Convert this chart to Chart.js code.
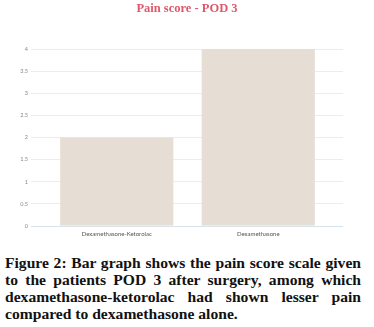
<!DOCTYPE html>
<html>
<head>
<meta charset="utf-8">
<script src="https://cdn.jsdelivr.net/npm/chart.js@4"></script>
<style>
  html, body { margin: 0; padding: 0; background: #fff; }
  #wrap { position: relative; width: 374px; height: 240px; }
  #cap {
    margin: 14px 13px 0 5px;
    font-family: "Liberation Serif", serif;
    font-weight: bold;
    font-size: 15.6px;
    line-height: 17px;
    text-align: justify;
    color: #111;
  }
</style>
</head>
<body>
<div id="wrap"><canvas id="painChart"></canvas></div>
<div id="cap">Figure 2: Bar graph shows the pain score scale given to the patients POD 3 after surgery, among which dexamethasone-ketorolac had shown lesser pain compared to dexamethasone alone.</div>
<script>
const groups = ['Dexamethasone-Ketorolac', 'Dexamethasone'];
const painScores = [2, 4];
const yTicks = [0, 0.5, 1, 1.5, 2, 2.5, 3, 3.5, 4];

let painChart = null;

function crtPainBar({ elementId, labels, data }) {
  const ctx = document.getElementById(elementId).getContext('2d');
  const gridCl = (c) => c.tick && c.tick.value === 0 ? '#d6e2ec' : '#ececec';
  return new Chart(ctx, {
    type: 'bar',
    data: {
      labels: labels,
      datasets: [{
        label: 'Pain score',
        data: data,
        backgroundColor: '#e6ded4',
        borderWidth: 0,
        barPercentage: 1,
        categoryPercentage: 0.8
      }]
    },
    options: {
      responsive: true,
      maintainAspectRatio: false,
      animation: false,
      plugins: {
        legend: { display: false },
        tooltip: { enabled: false },
        title: {
          display: true,
          text: 'Pain score - POD 3',
          color: '#e0576b',
          font: { family: 'Liberation Serif', size: 12.5, weight: 'bold' },
          padding: { top: 1, bottom: 33 }
        }
      },
      scales: {
        x: {
          grid: { display: false, drawTicks: false },
          border: { display: false },
          ticks: { color: '#555', font: { family: 'Lato', size: 6 }, padding: 4 },
          afterFit: (s) => { s.height = 14; }
        },
        y: {
          min: 0,
          max: 4,
          afterBuildTicks: (s) => { s.ticks = yTicks.map(v => ({ value: v })); },
          grid: { color: gridCl, tickLength: 15 },
          border: { display: false },
          ticks: {
            color: '#888',
            font: { family: 'Lato', size: 5.5 },
            padding: 3,
            callback: (v) => String(v)
          },
          afterFit: (s) => { s.width = 46; }
        },
        yr: {
          position: 'right',
          min: 0,
          max: 4,
          afterBuildTicks: (s) => { s.ticks = yTicks.map(v => ({ value: v })); },
          grid: { drawOnChartArea: false, color: gridCl, tickLength: 14 },
          border: { display: false },
          ticks: { display: false },
          afterFit: (s) => { s.width = 45; }
        }
      }
    }
  });
}

painChart = crtPainBar({ elementId: 'painChart', labels: groups, data: painScores });
</script>
</body>
</html>
